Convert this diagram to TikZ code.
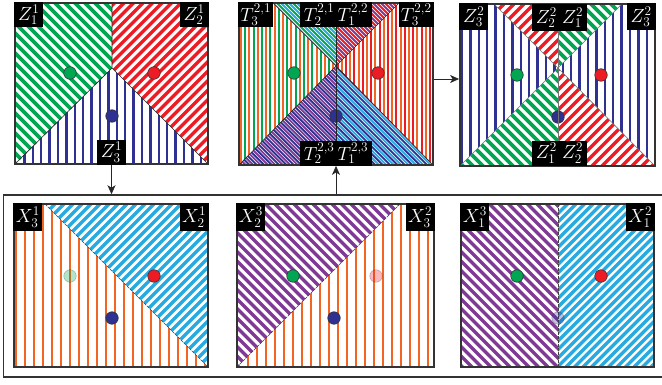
\documentclass[tikz,border=0pt]{standalone}
\usepackage{fix-cm}
\usetikzlibrary{arrows.meta}
\definecolor{cg}{RGB}{0,166,81}
\definecolor{cr}{RGB}{237,28,36}
\definecolor{cb}{RGB}{46,49,146}
\definecolor{cl}{RGB}{39,170,225}
\definecolor{co}{RGB}{242,101,34}
\definecolor{cp}{RGB}{128,58,150}
% #1 style, #2 start (phase), #3 step, #4 right limit, #5 top y
\newcommand\vstr[5]{\pgfmathtruncatemacro\nn{(#4-#2)/#3}\foreach \k in {0,...,\nn}{\draw[#1] ({#2+\k*#3},#5) -- ++(0,175);}}
\newcommand\bstr[5]{\pgfmathtruncatemacro\nn{(#4-#2+175)/#3}\foreach \k in {0,...,\nn}{\draw[#1] ({#2-175+\k*#3},#5) -- ++(175,175);}}
\newcommand\fstr[5]{\pgfmathtruncatemacro\nn{(#4-#2+175)/#3}\foreach \k in {0,...,\nn}{\draw[#1] ({#2+\k*#3},#5) -- ++(-175,175);}}
\begin{document}
\begin{tikzpicture}[x=1pt,y=-1pt,
  pbox/.style={draw=black!80, line width=1.8pt, inner sep=0pt},
  divl/.style={black!85, line width=0.6pt},
  divg/.style={black!55, line width=0.6pt},
  divd/.style={black!75, line width=0.6pt, dash pattern=on 3pt off 1pt},
  dot/.style={circle, draw=black!80, line width=0.6pt, minimum size=12.5pt, inner sep=0pt},
  fade/.style={opacity=0.3},
  lab/.style={fill=black, text=white, inner sep=0pt, minimum width=29pt, minimum height=25pt, font=\fontsize{19}{22}\selectfont},
  arr/.style={draw=black!85, line width=0.8pt, -{Stealth[length=9pt,width=8pt,inset=2.5pt]}},
  sg/.style={cg, line width=3.6pt}, sr/.style={cr, line width=3.4pt},
  sb/.style={cb, line width=2.4pt}, so/.style={co, line width=2.8pt},
  sp/.style={cp, line width=3.3pt}, sl/.style={cl, line width=3.2pt},
  tv/.style={line width=2.1pt}, td/.style={line width=1.9pt}]
\useasboundingbox (0,0) rectangle (662,385);

% ---------------- Panel A ----------------
\begin{scope}\clip (15,3)--(112,3)--(112,68)--(15,165)--cycle; \bstr{sg}{15}{10}{208}{-2}\end{scope}
\begin{scope}\clip (112,3)--(208,3)--(208,164)--(112,68)--cycle; \fstr{sr}{15}{9.5}{208}{-2}\end{scope}
\begin{scope}\clip (15,164)--(112,68)--(208,164)--cycle; \vstr{sb}{16}{8.4}{208}{-2}\end{scope}
\draw[divl] (112,3)--(112,68)--(15,164) (112,68)--(208,164);
\node[pbox, minimum width=193pt, minimum height=161pt] (A) at (111.5,83.5) {};

% ---------------- Panel B ----------------
\begin{scope}\clip (239,3)--(273,3)--(336,66)--(239,165)--cycle;
 \vstr{co,tv}{241}{8.4}{433}{-2}\vstr{cg,tv}{245.2}{8.4}{433}{-2}\end{scope}
\begin{scope}\clip (273,3)--(336,3)--(336,66)--cycle;
 \bstr{cg,td}{239}{8}{433}{-2}\bstr{cl,td}{243}{8}{433}{-2}\end{scope}
\begin{scope}\clip (336,3)--(399,3)--(336,66)--cycle;
 \bstr{cp,td}{239}{8}{433}{-2}\bstr{cr,td}{243}{8}{433}{-2}\end{scope}
\begin{scope}\clip (399,3)--(433,3)--(433,165)--(336,66)--cycle;
 \vstr{co,tv}{241}{8.4}{433}{-2}\vstr{cr,tv}{245.2}{8.4}{433}{-2}\end{scope}
\begin{scope}\clip (239,165)--(336,66)--(336,165)--cycle;
 \bstr{cp,td}{239}{7.4}{433}{-2}\bstr{cb,td}{242.7}{7.4}{433}{-2}\end{scope}
\begin{scope}\clip (336,66)--(433,165)--(336,165)--cycle;
 \bstr{cl,td}{239}{7.4}{433}{-2}\bstr{cb,td}{242.7}{7.4}{433}{-2}\end{scope}
\draw[divl] (273,3)--(336,66)--(399,3) (239,165)--(336,66)--(433,165);
\node[pbox, minimum width=194pt, minimum height=162pt] (B) at (336,84) {};

% ---------------- Panel C ----------------
\begin{scope}\clip (460,4)--(494,4)--(558,68)--(460,166)--cycle; \vstr{sb}{462}{8.4}{655}{-2}\end{scope}
\begin{scope}\clip (622,4)--(655,4)--(655,166)--(558,68)--cycle; \vstr{sb}{462}{8.4}{655}{-2}\end{scope}
\begin{scope}\clip (494,4)--(558,4)--(558,68)--cycle; \fstr{sr}{460}{10}{655}{-2}\end{scope}
\begin{scope}\clip (558,4)--(622,4)--(558,68)--cycle; \bstr{sg}{460}{10}{655}{-2}\end{scope}
\begin{scope}\clip (460,166)--(558,68)--(558,166)--cycle; \bstr{sg}{460}{10}{655}{-2}\end{scope}
\begin{scope}\clip (558,68)--(655,166)--(558,166)--cycle; \fstr{sr}{460}{10}{655}{-2}\end{scope}
\draw[divg] (494,4)--(558,68)--(622,4) (460,166)--(558,68)--(655,166);
\node[pbox, minimum width=195pt, minimum height=162pt] (C) at (557.5,85) {};

% ---------------- Panel X1 ----------------
\begin{scope}\clip (14,204)--(45,204)--(208,367)--(14,367)--cycle; \vstr{so}{16}{9}{208}{200}\end{scope}
\begin{scope}\clip (45,204)--(208,204)--(208,367)--cycle; \fstr{sl}{14}{9}{208}{200}\end{scope}
\draw[divd] (45,204)--(208,367);
\node[pbox, minimum width=194pt, minimum height=163pt] (X1) at (111,285.5) {};

% ---------------- Panel X2 ----------------
\begin{scope}\clip (237,204)--(400,204)--(237,367)--cycle; \bstr{sp}{237}{9.5}{434}{200}\end{scope}
\begin{scope}\clip (400,204)--(434,204)--(434,367)--(237,367)--cycle; \vstr{so}{239}{9}{434}{200}\end{scope}
\draw[divd] (237,367)--(400,204);
\node[pbox, minimum width=197pt, minimum height=163pt] (X2) at (335.5,285.5) {};

% ---------------- Panel X3 ----------------
\begin{scope}\clip (461,204)--(558,204)--(558,367)--(461,367)--cycle; \bstr{sp}{461}{9.5}{654}{200}\end{scope}
\begin{scope}\clip (558,204)--(654,204)--(654,367)--(558,367)--cycle; \fstr{sl}{461}{8.5}{654}{200}\end{scope}
\draw[divd] (558,204)--(558,367);
\node[pbox, minimum width=193pt, minimum height=163pt] (X3) at (557.5,285.5) {};

% ---------------- big frame ----------------
\node[draw=black!80, line width=1.5pt, inner sep=0pt, minimum width=660.5pt, minimum height=182pt] (F) at (333.75,286) {};

% ---------------- dots ----------------
\node[dot, fill=cg] (gA) at (70,73) {};
\node[dot, fill=cr] (rA) at (154,73) {};
\node[dot, fill=cb] (bA) at (112,116) {};
\node[dot, fill=cg] (gB) at (294,73) {};
\node[dot, fill=cr] (rB) at (378,73) {};
\node[dot, fill=cb] (bB) at (336,116) {};
\node[dot, fill=cg] (gC) at (517,75) {};
\node[dot, fill=cr] (rC) at (601,75) {};
\node[dot, fill=cb] (bC) at (558,117) {};
\node[dot, fill=cg, fade] (gX1) at (70,276) {};
\node[dot, fill=cr] (rX1) at (154,276) {};
\node[dot, fill=cb] (bX1) at (112,318) {};
\node[dot, fill=cg] (gX2) at (293,276) {};
\node[dot, fill=cr, fade] (rX2) at (376,276) {};
\node[dot, fill=cb] (bX2) at (334,318) {};
\node[dot, fill=cg] (gX3) at (517,276) {};
\node[dot, fill=cr] (rX3) at (601,276) {};
\node[dot, fill=cb, fade] (bX3) at (558,318) {};

% vertical dividers drawn over the dots
\draw[divl] (336,3)--(336,165);
\draw[divg] (558,4)--(558,166);

% ---------------- labels ----------------
\node[lab, anchor=north west] (lA1) at (A.north west) {$Z_1^1$};
\node[lab, anchor=north east] (lA2) at (A.north east) {$Z_2^1$};
\node[lab, anchor=south] (lA3) at (A.south) {$Z_3^1$};
\node[lab, anchor=north west, minimum width=35pt] (lB1) at (B.north west) {$T_3^{2,1}$};
\node[lab, anchor=north east, minimum width=35pt] (lB2) at (B.north east) {$T_3^{2,2}$};
\node[lab, anchor=north, minimum width=72pt] (lB3) at (B.north) {$T_2^{2,1}\,T_1^{2,2}$};
\node[lab, anchor=south, minimum width=72pt] (lB4) at (B.south) {$T_2^{2,3}\,T_1^{2,3}$};
\node[lab, anchor=north west, minimum height=27pt] (lC1) at (C.north west) {$Z_3^2$};
\node[lab, anchor=north east, minimum height=27pt] (lC2) at (C.north east) {$Z_3^2$};
\node[lab, anchor=north, minimum width=55pt, minimum height=27pt] (lC3) at (559.5,4) {$Z_2^2\;Z_1^2$};
\node[lab, anchor=south, minimum width=55pt] (lC4) at (559.5,166) {$Z_1^2\;Z_2^2$};
\node[lab, anchor=north west, minimum height=28pt] (lX11) at (X1.north west) {$X_3^1$};
\node[lab, anchor=north east, minimum height=28pt] (lX12) at (X1.north east) {$X_2^1$};
\node[lab, anchor=north west, minimum height=28pt] (lX21) at (X2.north west) {$X_2^3$};
\node[lab, anchor=north east, minimum height=28pt] (lX22) at (X2.north east) {$X_3^2$};
\node[lab, anchor=north west, minimum height=28pt] (lX31) at (X3.north west) {$X_1^3$};
\node[lab, anchor=north east, minimum height=28pt] (lX32) at (X3.north east) {$X_1^2$};

% ---------------- arrows ----------------
\draw[arr] (A.south) -- (A.south |- F.north);
\draw[arr] (F.north -| B.south) -- (B.south);
\draw[arr] ([yshift=5pt]B.east) -- ([yshift=5pt]B.east -| C.west);
\end{tikzpicture}
\end{document}
